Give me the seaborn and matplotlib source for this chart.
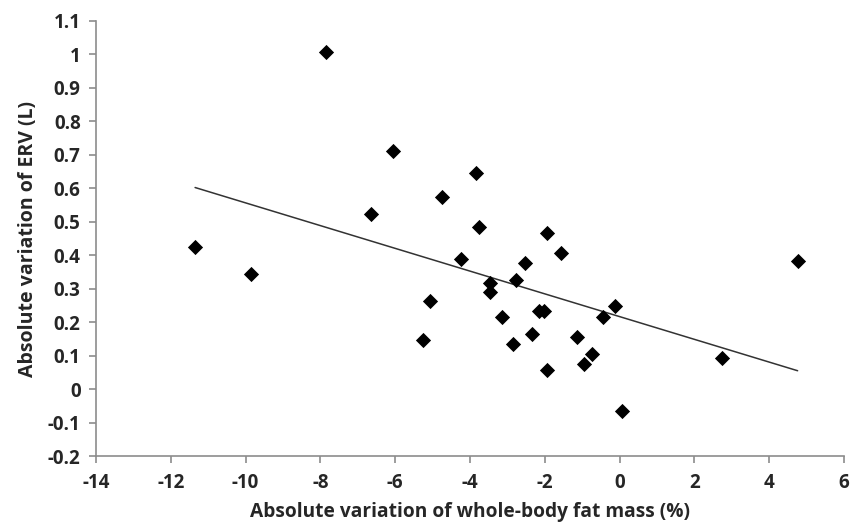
import numpy as np
import pandas as pd
import matplotlib
matplotlib.use('Agg')
import matplotlib.pyplot as plt
import seaborn as sns

# valores
fat_mass = [-11.35, -9.86, -7.85, -6.05, -6.65, -5.25, -5.07,
            -3.84, -4.75, -3.75, -1.95, -1.57, -4.25, -2.54, -2.77,
            -3.47, -3.47, -3.15, -2.15, -2.02, -0.12, -0.45, -2.84,
            -2.34, -1.14, -0.75, -0.95, -1.95, 0.07, 2.73, 4.76]
erv = [0.425, 0.344, 1.006, 0.712, 0.522, 0.147, 0.263,
       0.645, 0.575, 0.483, 0.465, 0.406, 0.388, 0.376, 0.326,
       0.316, 0.291, 0.216, 0.233, 0.233, 0.248, 0.214, 0.134,
       0.165, 0.155, 0.104, 0.074, 0.057, -0.066, 0.094, 0.384]

df = pd.DataFrame({'fat': fat_mass, 'erv': erv})

sns.set_style('white')
plt.rcParams['font.family'] = ['Open Sans', 'DejaVu Sans']
plt.rcParams['axes.unicode_minus'] = False

fig = plt.figure(figsize=(8.6, 5.22), dpi=100)
ax = fig.add_axes([0.1116, 0.1264, 0.8698, 0.8334])

sns.scatterplot(x='fat', y='erv', data=df, marker='D', s=60, color='black',
                edgecolor='black', linewidth=0, ax=ax, zorder=3)

# linha de tendencia (regressao linear)
coef = np.polyfit(df['fat'], df['erv'], 1)
xs = np.array([df['fat'].min(), df['fat'].max()])
ax.plot(xs, np.polyval(coef, xs), color='#333333', lw=1.1, zorder=2)

ax.set_xlim(-14, 6)
ax.set_ylim(-0.2, 1.1)
ax.set_xticks(range(-14, 7, 2))
yt = np.round(np.arange(-0.2, 1.11, 0.1), 1)
ax.set_yticks(yt)
ax.set_yticklabels([('%g' % v) for v in yt])

for s in ['top', 'right']:
    ax.spines[s].set_visible(False)
for s in ['left', 'bottom']:
    ax.spines[s].set_color('#8c8c8c')
    ax.spines[s].set_linewidth(1.2)
ax.tick_params(axis='both', direction='out', length=5, width=1.2, color='#8c8c8c',
               labelsize=13.5, left=True, bottom=True)
ax.tick_params(axis='x', pad=7)
ax.tick_params(axis='y', pad=6)
for lab in ax.get_xticklabels() + ax.get_yticklabels():
    lab.set_fontweight('bold')

ax.set_xlabel('Absolute variation of whole-body fat mass (%)', fontsize=13.8, fontweight='bold', labelpad=7)
ax.set_ylabel('Absolute variation of ERV (L)', fontsize=14, fontweight='bold', labelpad=7)

plt.savefig('out.png', dpi=100)
